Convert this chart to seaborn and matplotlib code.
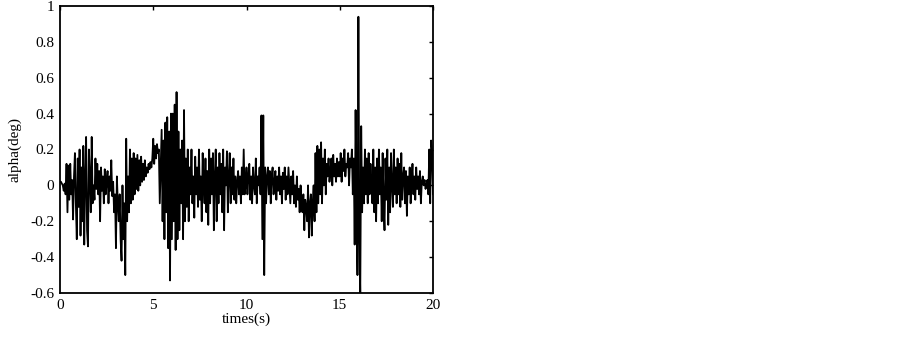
import numpy as np
import pandas as pd
import seaborn as sns
import matplotlib
matplotlib.use('Agg')
import matplotlib.pyplot as plt

DT = 0.05
alpha = [
    # 0-1 s
    0.02, 0.02, 0.01, 0.0, -0.03, 0.01, -0.05, 0.12, -0.15, 0.11,
    -0.08, 0.12, -0.05, 0.03, -0.19, 0.05, 0.18, -0.1, -0.3, 0.15,
    # 1-2 s
    -0.12, 0.2, -0.28, 0.1, -0.2, 0.22, -0.33, 0.05, 0.27, -0.25,
    -0.34, 0.2, 0.05, -0.15, 0.27, -0.1, 0.0, -0.08, 0.15, -0.02,
    # 2-3 s
    0.12, -0.05, 0.08, -0.2, 0.1, -0.03, 0.05, -0.1, 0.09, -0.05,
    0.02, 0.08, -0.1, 0.05, -0.03, 0.14, -0.06, 0.02, -0.15, -0.05,
    # 3-4 s
    -0.35, 0.05, -0.1, -0.2, -0.05, -0.3, -0.42, 0.0, -0.3, -0.1,
    -0.5, 0.26, -0.2, 0.05, -0.15, 0.2, -0.1, 0.15, -0.08, 0.18,
    # 4-5 s
    -0.05, 0.15, -0.02, 0.17, -0.03, 0.14, 0.0, 0.16, 0.02, 0.12,
    0.03, 0.14, 0.05, 0.1, 0.07, 0.12, 0.09, 0.13, 0.1, 0.15,
    # 5-6 s
    0.26, 0.12, 0.22, 0.15, 0.23, 0.18, 0.2, -0.1, 0.1, 0.31,
    -0.2, 0.25, -0.3, 0.35, -0.15, 0.38, -0.35, 0.3, -0.53, 0.4,
    # 6-7 s
    -0.3, 0.4, -0.2, 0.45, -0.36, 0.52, -0.3, 0.3, -0.25, 0.2,
    -0.1, 0.25, -0.3, 0.42, -0.2, 0.15, -0.12, 0.2, -0.2, 0.1,
    # 7-8 s
    -0.05, 0.2, -0.1, 0.05, -0.18, 0.16, -0.05, 0.1, -0.12, 0.2,
    -0.08, 0.05, -0.2, 0.18, 0.0, -0.1, 0.15, -0.15, 0.08, -0.22,
    # 8-9 s
    0.2, -0.1, 0.15, -0.05, 0.18, -0.25, 0.05, 0.2, -0.2, 0.1,
    -0.1, 0.18, -0.05, 0.12, -0.15, 0.2, -0.25, 0.1, 0.0, 0.19,
    # 9-10 s
    -0.15, 0.05, 0.18, -0.1, 0.1, -0.05, 0.15, -0.08, 0.05, -0.1,
    0.02, 0.08, -0.05, 0.05, -0.1, 0.1, -0.05, 0.2, -0.05, 0.0,
    # 10-11 s
    0.1, -0.05, 0.05, 0.12, -0.08, 0.05, -0.1, 0.1, 0.0, -0.05,
    0.15, -0.1, 0.05, 0.0, 0.1, -0.05, 0.39, -0.3, 0.39, -0.5,
    # 11-12 s
    0.1, -0.1, 0.05, 0.1, -0.05, 0.08, -0.1, 0.05, 0.1, -0.05,
    0.02, 0.08, -0.08, 0.05, -0.03, 0.1, -0.05, 0.05, -0.1, 0.07,
    # 12-13 s
    -0.02, 0.1, -0.08, 0.05, -0.05, 0.1, 0.0, -0.1, 0.05, -0.05,
    0.08, -0.1, 0.0, -0.12, 0.05, -0.08, -0.02, -0.15, 0.0, -0.1,
    # 13-14 s
    -0.15, -0.05, -0.25, -0.08, -0.12, -0.2, 0.0, -0.29, -0.1, -0.05,
    -0.28, -0.1, 0.0, -0.2, 0.18, -0.15, 0.22, -0.1, 0.2, -0.05,
    # 14-15 s
    0.24, -0.1, 0.15, 0.0, 0.2, -0.05, 0.12, 0.05, 0.15, 0.02,
    0.08, 0.15, 0.0, 0.17, 0.05, 0.12, 0.02, 0.15, 0.05, 0.13,
    # 15-16 s
    0.05, 0.18, 0.02, 0.15, 0.08, 0.2, 0.05, 0.12, 0.1, 0.18,
    0.0, 0.15, 0.1, 0.2, -0.05, 0.15, -0.33, 0.42, -0.1, -0.5,
    # 16-17 s
    0.94, -0.3, -0.6, 0.33, -0.15, 0.1, -0.1, 0.2, -0.05, 0.15,
    -0.1, 0.18, -0.05, 0.12, 0.0, -0.1, 0.2, -0.15, 0.1, -0.2,
    # 17-18 s
    0.15, -0.1, 0.2, -0.05, 0.1, -0.2, 0.18, -0.1, -0.25, 0.15,
    -0.08, 0.2, -0.22, 0.1, -0.15, 0.18, 0.0, -0.12, 0.2, -0.05,
    # 18-19 s
    0.1, -0.1, 0.15, -0.05, 0.12, -0.12, 0.18, -0.08, 0.05, 0.1,
    -0.1, 0.08, -0.17, 0.05, -0.05, 0.1, -0.1, 0.02, 0.12, -0.05,
    # 19-20 s
    0.05, -0.08, 0.1, -0.02, 0.05, -0.05, 0.08, -0.1, 0.02, 0.05,
    0.0, 0.03, -0.02, 0.0, 0.03, -0.05, 0.2, -0.1, 0.25, 0.2,
    -0.05,
]
times = np.arange(len(alpha)) * DT

x_ticks = [0, 5, 10, 15, 20]
y_ticks = [-0.6, -0.4, -0.2, 0, 0.2, 0.4, 0.6, 0.8, 1]
y_tick_labels = ['-0.6', '-0.4', '-0.2', '0', '0.2', '0.4', '0.6', '0.8', '1']

sns.set_theme(style='white')
plt.rcParams['font.family'] = ['Liberation Serif', 'DejaVu Serif']

df = pd.DataFrame({'t': times, 'alpha': alpha})

fig = plt.figure(figsize=(9.03, 3.37), dpi=100)
ax = fig.add_axes([60 / 903, 44 / 337, 373 / 903, 287 / 337])
sns.lineplot(x='t', y='alpha', data=df, ax=ax, color='black', linewidth=1.3,
             estimator=None, sort=False)

ax.set_xlim(0, 20)
ax.set_ylim(-0.6, 1)
ax.set_xticks(x_ticks)
ax.set_xticklabels([str(v) for v in x_ticks])
ax.set_yticks(y_ticks)
ax.set_yticklabels(y_tick_labels)
ax.tick_params(direction='in', length=3, width=1.0, top=True, right=True,
               labelsize=11, colors='black', pad=4)
for s in ax.spines.values():
    s.set_linewidth(1.3)
    s.set_color('black')
ax.set_xlabel('times(s)', fontsize=11, labelpad=1, color='black')
ax.set_ylabel('alpha(deg)', fontsize=11, labelpad=6, color='black')

fig.savefig('out.png', dpi=100)
